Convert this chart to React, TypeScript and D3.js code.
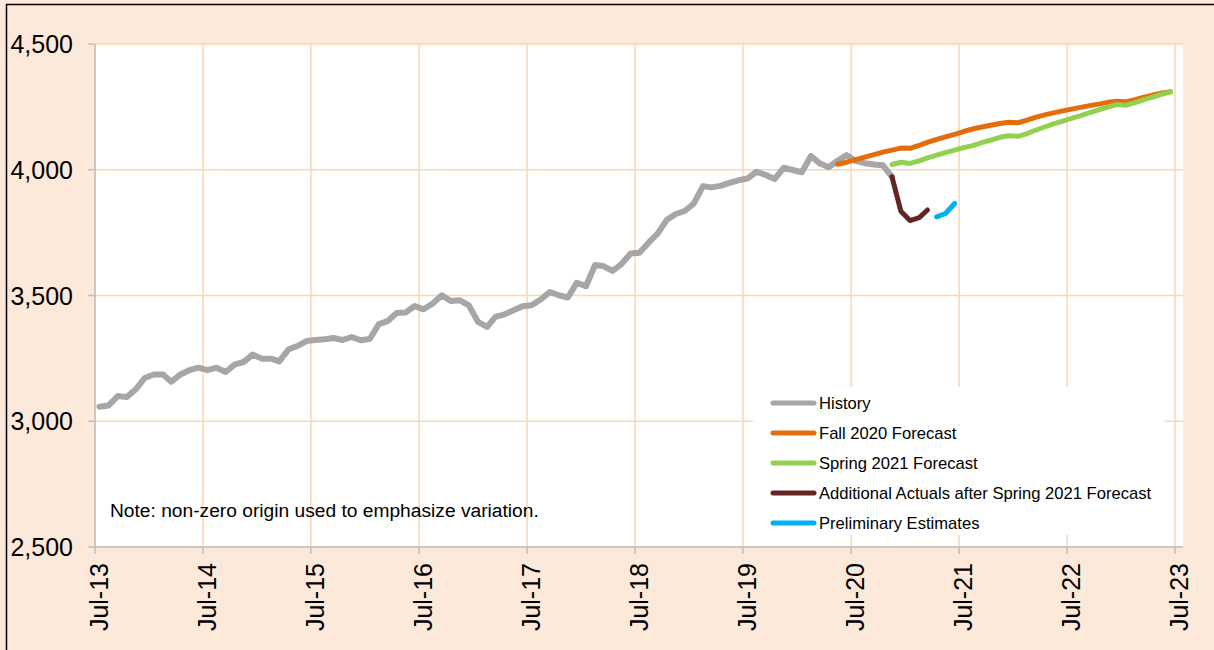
import React, { useEffect, useRef } from 'react';
import * as d3 from 'd3';

// monthly values, month index 0 = Jul 2013
const historyStart = 0;
const historyValues = [
  3058, 3063, 3100, 3096, 3127, 3172, 3186, 3186, 3157, 3186, 3203, 3213,
  3203, 3213, 3196, 3225, 3236, 3265, 3249, 3249, 3238, 3285, 3299, 3319,
  3323, 3326, 3331, 3323, 3335, 3322, 3327, 3386, 3398, 3430, 3432, 3458,
  3445, 3468, 3501, 3478, 3481, 3461, 3395, 3375, 3415, 3425, 3441, 3457,
  3461, 3484, 3514, 3501, 3492, 3550, 3537, 3621, 3617, 3598, 3625, 3667,
  3670, 3710, 3747, 3800, 3824, 3836, 3866, 3935, 3930, 3936, 3948, 3958,
  3965, 3992, 3979, 3963, 4008, 3999, 3990, 4055, 4026, 4010, 4036, 4058,
  4035, 4026, 4021, 4018, 3972,
];

const fallStart = 82;
const fallValues = [
  4022, 4030, 4040, 4050, 4060, 4070, 4078, 4086, 4085, 4097, 4109, 4121,
  4131, 4141, 4152, 4162, 4170, 4177, 4184, 4189, 4187, 4197, 4208, 4218,
  4226, 4234, 4241, 4248, 4255, 4261, 4268, 4272, 4270, 4279, 4288, 4297,
  4304, 4310,
];

const springStart = 88;
const springValues = [
  4021, 4030, 4025, 4035, 4047, 4058, 4068, 4078, 4088, 4096, 4108, 4118,
  4129, 4135, 4133, 4144, 4157, 4170, 4182, 4193, 4204, 4215, 4227, 4238,
  4249, 4259, 4256, 4267, 4278, 4289, 4300, 4310,
];

const actualsStart = 88;
const actualsValues = [3972, 3835, 3798, 3810, 3840];

const prelimStart = 93;
const prelimValues = [3813, 3826, 3866];

const yTicks = [2500, 3000, 3500, 4000, 4500];
const xTickYears = [2013, 2014, 2015, 2016, 2017, 2018, 2019, 2020, 2021, 2022, 2023];

const seriesNames = [
  'History',
  'Fall 2020 Forecast',
  'Spring 2021 Forecast',
  'Additional Actuals after Spring 2021 Forecast',
  'Preliminary Estimates',
];
const seriesColors = ['#A6A6A6', '#E46C0A', '#92D050', '#632523', '#00B0F0'];

const FONT = 'Liberation Sans, Arial, sans-serif';

export default function App() {
  const ref = useRef<SVGSVGElement>(null);

  useEffect(() => {
    const svg = d3.select(ref.current);
    svg.selectAll('*').remove();

    const width = 1214;
    const height = 650;
    const left = 95;
    const right = 1183;
    const top = 44;
    const bottom = 547;

    // x: time, Jul-13 .. Jul-23
    const x = d3.scaleTime()
      .domain([new Date(2013, 6, 1), new Date(2023, 6, 1)])
      .range([left, 1175]);
    const y = d3.scaleLinear().domain([2500, 4500]).range([bottom, top]);

    const monthDate = (m: number) => new Date(2013, 6 + m, 16);

    svg.append('rect')
      .attr('x', 0).attr('y', 0)
      .attr('width', width).attr('height', height)
      .attr('fill', '#FDE9DA');
    svg.append('rect')
      .attr('x', 6.5).attr('y', 4.5)
      .attr('width', width + 10).attr('height', height + 10)
      .attr('fill', 'none').attr('stroke', '#000').attr('stroke-width', 1.5);

    svg.append('rect')
      .attr('x', left).attr('y', top)
      .attr('width', right - left).attr('height', bottom - top)
      .attr('fill', '#fff');

    // gridlines
    svg.selectAll('.hgrid')
      .data(yTicks)
      .enter()
      .append('line')
      .attr('x1', left).attr('x2', right)
      .attr('y1', d => y(d)).attr('y2', d => y(d))
      .attr('stroke', '#FCD5B4').attr('stroke-width', 1.5);

    const xTicks = xTickYears.map(yr => new Date(yr, 6, 1));
    svg.selectAll('.vgrid')
      .data(xTicks)
      .enter()
      .append('line')
      .attr('x1', d => x(d)).attr('x2', d => x(d))
      .attr('y1', top).attr('y2', bottom)
      .attr('stroke', '#FCD5B4').attr('stroke-width', 1.5);

    // axes
    svg.append('line')
      .attr('x1', left).attr('x2', left).attr('y1', top).attr('y2', bottom)
      .attr('stroke', '#BFBFBF').attr('stroke-width', 1.5);
    svg.append('line')
      .attr('x1', left).attr('x2', right).attr('y1', bottom).attr('y2', bottom)
      .attr('stroke', '#BFBFBF').attr('stroke-width', 1.5);

    svg.selectAll('.ytick')
      .data(yTicks)
      .enter()
      .append('line')
      .attr('x1', left - 7).attr('x2', left)
      .attr('y1', d => y(d)).attr('y2', d => y(d))
      .attr('stroke', '#BFBFBF').attr('stroke-width', 1.5);

    svg.selectAll('.ylabel')
      .data(yTicks)
      .enter()
      .append('text')
      .attr('x', 73)
      .attr('y', d => y(d))
      .attr('dy', '0.36em')
      .attr('text-anchor', 'end')
      .attr('font-family', FONT)
      .attr('font-size', '25px')
      .attr('fill', '#000')
      .text(d => d3.format(',')(d));

    svg.selectAll('.xtick')
      .data(xTicks)
      .enter()
      .append('line')
      .attr('x1', d => x(d)).attr('x2', d => x(d))
      .attr('y1', bottom).attr('y2', bottom + 7)
      .attr('stroke', '#BFBFBF').attr('stroke-width', 1.5);

    svg.selectAll('.xlabel')
      .data(xTicks)
      .enter()
      .append('text')
      .attr('transform', d => `translate(${x(d) + 13},${bottom + 16}) rotate(-90)`)
      .attr('text-anchor', 'end')
      .attr('font-family', FONT)
      .attr('font-size', '25px')
      .attr('fill', '#000')
      .text(d => d3.timeFormat('%b-%y')(d));

    svg.append('text')
      .attr('x', 110).attr('y', 510)
      .attr('dy', '0.36em')
      .attr('font-family', FONT)
      .attr('font-size', '19.2px')
      .attr('fill', '#000')
      .text('Note: non-zero origin used to emphasize variation.');

    // series
    const line = d3.line<{ m: number; v: number }>()
      .x(d => x(monthDate(d.m)))
      .y(d => y(d.v));

    const series = [
      { start: historyStart, values: historyValues },
      { start: fallStart, values: fallValues },
      { start: springStart, values: springValues },
      { start: actualsStart, values: actualsValues },
      { start: prelimStart, values: prelimValues },
    ];

    series.forEach((s, i) => {
      svg.append('path')
        .datum(s.values.map((v, k) => ({ m: s.start + k, v })))
        .attr('d', line)
        .attr('fill', 'none')
        .attr('stroke', seriesColors[i])
        .attr('stroke-width', i === 0 ? 6 : 5)
        .attr('stroke-linejoin', 'round')
        .attr('stroke-linecap', 'round');
    });

    // legend
    const lg = svg.append('g');
    lg.append('rect')
      .attr('x', 753).attr('y', 387)
      .attr('width', 412).attr('height', 148)
      .attr('fill', '#fff');

    const rowY = d3.scalePoint<string>().domain(seriesNames).range([403, 523]);
    seriesNames.forEach((name, i) => {
      lg.append('line')
        .attr('x1', 773).attr('x2', 814)
        .attr('y1', rowY(name)!).attr('y2', rowY(name)!)
        .attr('stroke', seriesColors[i])
        .attr('stroke-width', 5)
        .attr('stroke-linecap', 'round');
      lg.append('text')
        .attr('x', 819).attr('y', rowY(name)!)
        .attr('dy', '0.36em')
        .attr('font-family', FONT)
        .attr('font-size', '16.6px')
        .attr('fill', '#000')
        .text(name);
    });
  }, []);

  return (
    <svg
      ref={ref}
      width={1214}
      height={650}
      viewBox="0 0 1214 650"
      style={{ position: 'absolute', left: 0, top: 0 }}
    />
  );
}
